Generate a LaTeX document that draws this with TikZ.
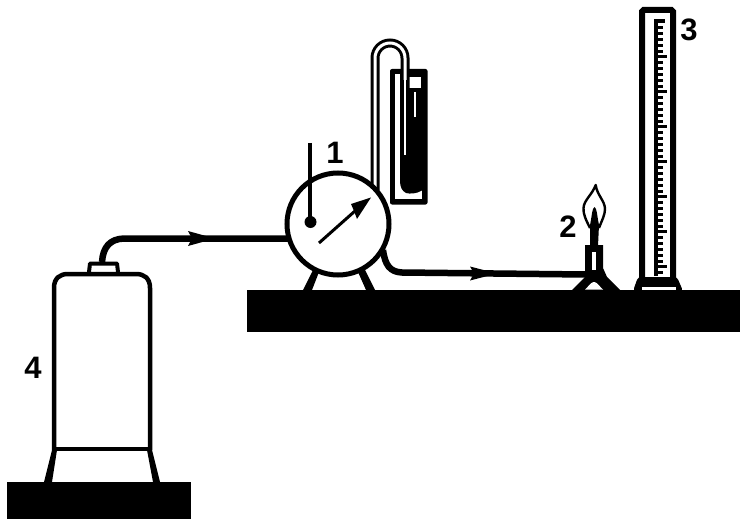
\documentclass[tikz,border=0pt]{standalone}
\usepackage{fontspec}
\setmainfont{Liberation Sans}
\tikzset{
  x=1pt,y=-1pt,
  bench/.style={fill=black,draw=none},
  pipe/.style={draw=black,line width=6.5pt},
  wall/.style={draw=black,line width=4.5pt,line join=round},
  head/.style={fill=black,draw=none},
  num/.style={font=\fontsize{31}{31}\selectfont\bfseries,inner sep=0pt,text=black},
  tick/.style={draw=black,line width=3pt}
}
\begin{document}
\begin{tikzpicture}
\useasboundingbox (0,0) rectangle (740,519);
% benches
\fill[bench] (247,290) rectangle (740,332);
\fill[bench] (7,482) rectangle (191,519);
% gas bottle 4
\draw[wall] (54,450) -- (54,288) .. controls (54,278) and (60,274) .. (68,274) -- (136,274) .. controls (144,274) and (150,278) .. (150,288) -- (150,450);
\draw[wall] (54,449) -- (150,449);
\fill[black] (52,450) -- (44,482) -- (52,482) -- (57,450) -- cycle;
\fill[black] (152,450) -- (160,482) -- (153,482) -- (147,450) -- cycle;
\draw[wall,line width=4pt] (89,272) -- (90,263.5) -- (117,263.5) -- (118,272);
% pipe from bottle to meter
\coordinate (valve) at (102,262);
\coordinate (meterin) at (290,238.5);
\draw[pipe] (valve) .. controls (103,247) and (110,239) .. (124,238.5) -- (meterin);
\fill[head] (215,238.5) -- (188,231) -- (192,238.5) -- (188,246) -- cycle;
% manometer
\fill[black,rounded corners=2pt] (390,69) rectangle (427.5,204.5);
\fill[white] (395,74) rectangle (422,199);
\fill[black] (400,74) -- (422,74) -- (422,190.5) .. controls (416,194) and (410,194) .. (406,193) .. controls (402,191) and (400,187) .. (400,181) -- cycle;
\fill[white] (409,77) rectangle (421,88);
\draw[white,line width=1.4pt] (415,92) -- (415,117);
\draw[black,line width=9pt] (375,190) -- (375,58) arc[start angle=180,end angle=360,radius=15] -- (405,100);
\draw[white,line width=3pt] (375,190) -- (375,58) arc[start angle=180,end angle=360,radius=15] -- (405,80);
\draw[white,line width=1.2pt] (405,80) -- (405,155);
% meter 1
\fill[black] (313,270) -- (303,290) -- (312,290) -- (319,272) -- cycle;
\fill[black] (358,272) -- (366,290) -- (375,290) -- (365,270) -- cycle;
\coordinate (meterout) at (383,250);
\draw[pipe] (meterout) .. controls (385,265) and (390,272) .. (402,272.5) -- (585,274.5);
\fill[head] (497,273.5) -- (470,266.5) -- (474,273.5) -- (470,280.5) -- cycle;
\draw[draw=black,fill=white,line width=5pt] (338,224) circle[radius=51];
\draw[line width=4.5pt] (310,143) -- (310,222);
\fill (310.5,222) circle[radius=6];
\draw[line width=3pt] (319,243) -- (355,211);
\fill[head] (371,197.5) -- (351,204) -- (354,211) -- (357,219) -- cycle;
% burner 2
\fill[black] (585,245) -- (603,245) -- (603,268) -- (607,277) -- (620,290) -- (572,290) -- (585,277) -- cycle;
\fill[white] (592,252) rectangle (595.5,270);
\fill[white] (585,289.5) .. controls (589,286) and (591,282) .. (594,282) .. controls (597,282) and (599,286) .. (603,289.5) -- cycle;
\fill[black] (590,246) -- (590,225) .. controls (592,216) and (592,208) .. (594.5,207) .. controls (597,208) and (597,216) .. (599,225) -- (598,246) -- cycle;
\draw[black,line width=2.4pt,line join=round] (590,228) .. controls (586,220) and (583,214) .. (583.5,208) .. controls (584,200) and (592,195) .. (595.7,185) .. controls (597,195) and (605,201) .. (605,209) .. controls (605,215) and (602,220) .. (599,228);
% burette 3
\draw[black,line width=6pt,rounded corners=1.5pt] (642,282) -- (642,10) -- (673,10) -- (673,282);
\fill[black] (653.5,19) rectangle (658,276);
\fill[black] (658,19) rectangle (665,23);
\foreach \i in {1,...,43}{
  \pgfmathsetmacro{\yy}{22+5.83*\i}
  \pgfmathsetmacro{\xx}{mod(\i,6)==0 ? 667 : 663}
  \draw[tick] (657,\yy) -- (\xx,\yy);
}
\fill[black,rounded corners=3pt] (633,291) -- (638,277) -- (677,277) -- (683,291) -- cycle;
\fill[white] (642,287) rectangle (676,290);
% labels
\node[num] (n1) at (335,153) {1};
\node[num] (n2) at (568,227) {2};
\node[num] (n3) at (689,30) {3};
\node[num] (n4) at (33,368) {4};
\end{tikzpicture}
\end{document}
